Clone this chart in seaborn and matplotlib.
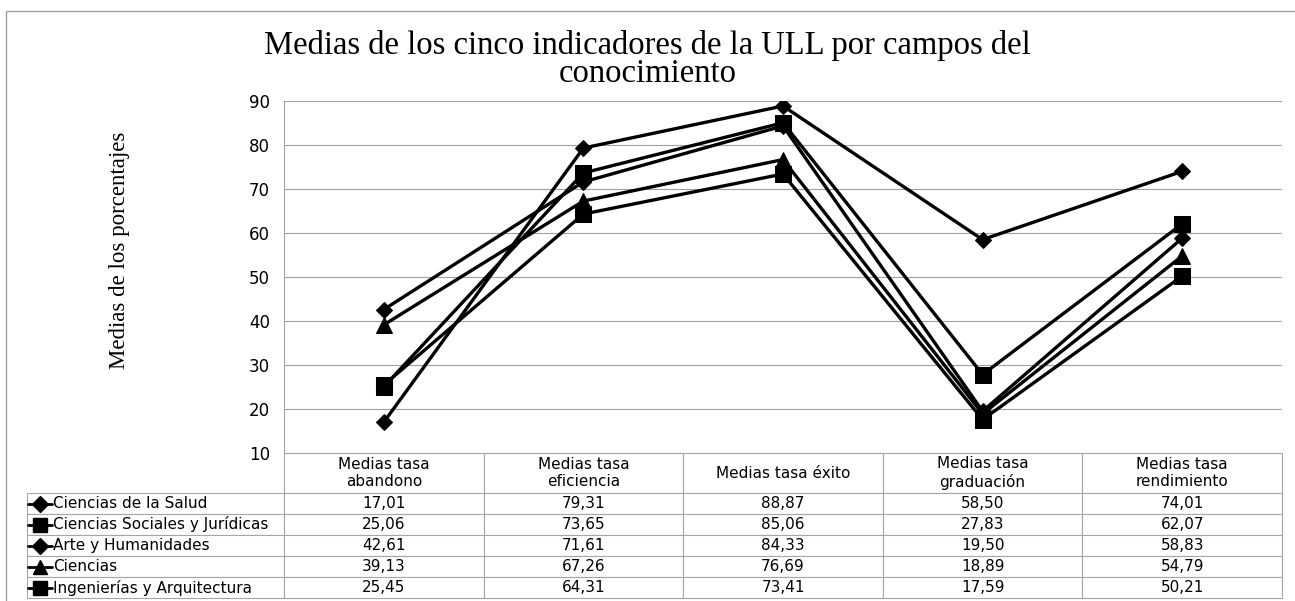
import numpy as np
import pandas as pd
import matplotlib.pyplot as plt
import seaborn as sns
from matplotlib.patches import Rectangle

# datos
indicadores = ['Medias tasa\nabandono', 'Medias tasa\neficiencia', 'Medias tasa éxito',
               'Medias tasa\ngraduación', 'Medias tasa\nrendimiento']
campos = ['Ciencias de la Salud', 'Ciencias Sociales y Jurídicas', 'Arte y Humanidades',
          'Ciencias', 'Ingenierías y Arquitectura']
salud = [17.01, 79.31, 88.87, 58.50, 74.01]
sociales = [25.06, 73.65, 85.06, 27.83, 62.07]
arte = [42.61, 71.61, 84.33, 19.50, 58.83]
ciencias = [39.13, 67.26, 76.69, 18.89, 54.79]
ingenierias = [25.45, 64.31, 73.41, 17.59, 50.21]

marcadores = ['D', 's', 'D', '^', 's']
tamanos = [8.5, 11, 8.5, 11, 11]

series = [salud, sociales, arte, ciencias, ingenierias]
df = pd.DataFrame({'campo': np.repeat(campos, len(indicadores)),
                   'pos': np.tile(np.arange(len(indicadores)), len(campos)),
                   'valor': np.concatenate(series)})

sns.set_style('white')
plt.rcParams['font.family'] = ['DejaVu Sans']
plt.rcParams['text.color'] = 'black'
plt.rcParams['ytick.color'] = 'black'

W, H = 1295, 601
fig = plt.figure(figsize=(W / 100, H / 100), dpi=100)
# zona del grafico en pixeles
izq, der, arriba, abajo = 284, 1282, 101, 453
ax = fig.add_axes([izq / W, 1 - abajo / H, (der - izq) / W, (abajo - arriba) / H])

for campo, m, ms in zip(campos, marcadores, tamanos):
    sns.lineplot(data=df[df.campo == campo], x='pos', y='valor', color='black', lw=2.4,
                 marker=m, markersize=ms, markeredgecolor='black', ax=ax)

ax.set_xlim(-0.5, len(indicadores) - 0.5)
ax.set_ylim(10, 90)
ax.set_yticks(range(10, 91, 10))
ax.set_xticks([])
ax.set_xlabel('')
ax.set_ylabel('')
ax.yaxis.grid(True, color='#a0a0a0', lw=0.8)
ax.tick_params(axis='y', length=0, pad=10, labelsize=12)
for s in ['top', 'right', 'bottom']:
    ax.spines[s].set_visible(False)
ax.spines['left'].set_color('#a0a0a0')
ax.spines['left'].set_linewidth(0.8)

# tabla de datos debajo
cab, fila = 40, 21
alto_ax = abajo - arriba
ancho_ax = der - izq
tabla_izq = 27
celdas = [[campo] + [f'{v:.2f}'.replace('.', ',') for v in vals] for campo, vals in zip(campos, series)]
alto_tabla = cab + fila * len(campos)
tabla = ax.table(cellText=celdas, colLabels=[''] + indicadores, cellLoc='center',
                 colWidths=[izq - tabla_izq] + [ancho_ax / len(indicadores)] * len(indicadores),
                 bbox=[(tabla_izq - izq) / ancho_ax, -alto_tabla / alto_ax,
                       (der - tabla_izq) / ancho_ax, alto_tabla / alto_ax])
tabla.auto_set_font_size(False)
tabla.set_fontsize(11)
for (r, c), cell in tabla.get_celld().items():
    cell.set_height(cab if r == 0 else fila)
    cell.set_edgecolor('#a6a6a6')
    cell.set_linewidth(0.8)
    if c == 0:
        cell.get_text().set_ha('left')
tabla[0, 0].visible_edges = 'open'
tabla[0, 0].set_fill(False)

# claves de la leyenda en la columna de etiquetas
xk0, xk1 = (tabla_izq + 1 - izq) / ancho_ax, (52 - izq) / ancho_ax
for i, (m, ms) in enumerate(zip(marcadores, tamanos)):
    yc = -(cab + fila * (i + 0.5)) / alto_ax
    ax.plot([xk0, xk1], [yc, yc], color='black', lw=2, transform=ax.transAxes, clip_on=False)
    ax.plot([(xk0 + xk1) / 2], [yc], marker=m, ms=ms * 0.9, color='black',
            transform=ax.transAxes, clip_on=False)

fig.text(0.5, 1 - 30 / H, 'Medias de los cinco indicadores de la ULL por campos del\nconocimiento',
         ha='center', va='top', fontsize=23.5, family='Liberation Serif', linespacing=0.9)
fig.text(120 / W, 1 - 250 / H, 'Medias de los porcentajes', rotation=90, ha='center', va='center',
         fontsize=16.5, family='Liberation Serif')

# marco exterior
fig.add_artist(Rectangle((6 / W, -0.1), 1.2, 1.1 - 11 / H, transform=fig.transFigure,
                         fill=False, edgecolor='#a0a0a0', lw=1))

fig.savefig('out.png', dpi=100)
